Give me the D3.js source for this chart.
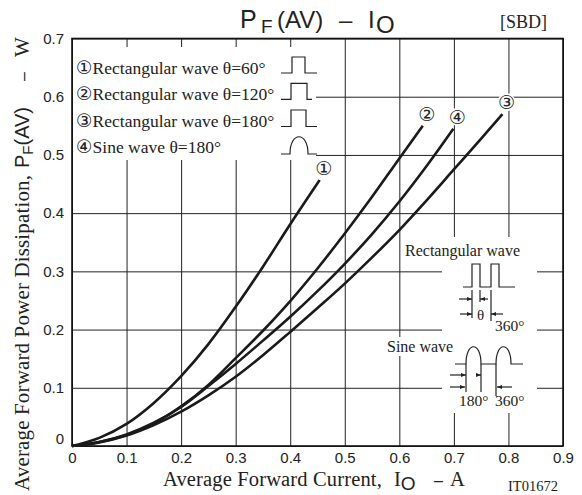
<!DOCTYPE html>
<html>
<head>
<meta charset="utf-8">
<script src="https://cdn.jsdelivr.net/npm/d3@7"></script>
<style>
  html, body { margin: 0; padding: 0; background: #fff; }
  svg { display: block; }
</style>
</head>
<body>
<svg id="chart" width="582" height="495"></svg>
<script>
// axis ticks
const xTicks = [0, 0.1, 0.2, 0.3, 0.4, 0.5, 0.6, 0.7, 0.8, 0.9];
const xTickLabels = ["0", "0.1", "0.2", "0.3", "0.4", "0.5", "0.6", "0.7", "0.8", "0.9"];
const yTicks = [0, 0.1, 0.2, 0.3, 0.4, 0.5, 0.6, 0.7];
const yTickLabels = ["0", "0.1", "0.2", "0.3", "0.4", "0.5", "0.6", "0.7"];

// series: average forward current (A) vs forward power dissipation (W)
const seriesMarks = ["\u2460", "\u2461", "\u2462", "\u2463"];
const seriesNames = [
  "Rectangular wave \u03b8=60\u00b0",
  "Rectangular wave \u03b8=120\u00b0",
  "Rectangular wave \u03b8=180\u00b0",
  "Sine wave \u03b8=180\u00b0"
];
const ioRect60 = [0, 0.05, 0.1, 0.15, 0.2, 0.25, 0.3, 0.35, 0.4, 0.454];
const pfRect60 = [0, 0.014, 0.038, 0.074, 0.12, 0.175, 0.239, 0.308, 0.381, 0.457];
const ioRect120 = [0, 0.05, 0.1, 0.15, 0.2, 0.25, 0.3, 0.35, 0.4, 0.45, 0.5, 0.55, 0.6, 0.643];
const pfRect120 = [0, 0.007, 0.019, 0.039, 0.068, 0.105, 0.151, 0.198, 0.249, 0.305, 0.365, 0.428, 0.494, 0.55];
const ioRect180 = [0, 0.05, 0.1, 0.15, 0.2, 0.25, 0.3, 0.35, 0.4, 0.45, 0.5, 0.55, 0.6, 0.65, 0.7, 0.75, 0.789];
const pfRect180 = [0, 0.006, 0.018, 0.036, 0.059, 0.087, 0.119, 0.156, 0.196, 0.237, 0.279, 0.324, 0.371, 0.422, 0.475, 0.528, 0.57];
const ioSine = [0, 0.05, 0.1, 0.15, 0.2, 0.25, 0.3, 0.35, 0.4, 0.45, 0.5, 0.55, 0.6, 0.65, 0.699];
const pfSine = [0, 0.007, 0.02, 0.04, 0.067, 0.103, 0.141, 0.181, 0.222, 0.266, 0.313, 0.364, 0.42, 0.481, 0.545];

const SANS = "'Liberation Sans', Arial, Helvetica, sans-serif";
const SERIF = "'Liberation Serif', 'Times New Roman', serif";
const CIRC = "'DejaVu Sans', sans-serif";

const svg = d3.select("#chart");
const plotL = 72, plotR = 563, plotT = 38.5, plotB = 446;

const x = d3.scaleLinear().domain([0, 0.9]).range([plotL, plotR]);
const y = d3.scaleLinear().domain([0, 0.7]).range([plotB, plotT]);

svg.append("rect").attr("width", 582).attr("height", 495).attr("fill", "#fff");

// grid + tick labels
const gx = svg.append("g")
  .attr("transform", "translate(0," + plotB + ")")
  .call(d3.axisBottom(x).tickValues(xTicks)
    .tickFormat((d, i) => xTickLabels[i])
    .tickSize(-(plotB - plotT)).tickPadding(6));
const gy = svg.append("g")
  .attr("transform", "translate(" + plotL + ",0)")
  .call(d3.axisLeft(y).tickValues(yTicks)
    .tickFormat((d, i) => yTickLabels[i])
    .tickSize(-(plotR - plotL)).tickPadding(8));

[gx, gy].forEach(g => {
  g.select(".domain").remove();
  g.selectAll(".tick line").attr("stroke", "#222").attr("stroke-width", 1);
  g.selectAll(".tick text")
    .attr("fill", "#222")
    .attr("font-family", SANS)
    .attr("font-size", 15);
});
// the zero label sits a bit above the axis line
gy.selectAll(".tick text").filter(d => d === 0).attr("dy", "-0.2em");

// white patches behind the legend and the wave insets
const masks = [
  [73, 47, 316, 160],
  [442, 237, 537, 413],
  [403, 242, 521, 261],
  [385, 337, 456, 356]
];
svg.append("g").selectAll("rect").data(masks).join("rect")
  .attr("x", d => d[0]).attr("y", d => d[1])
  .attr("width", d => d[2] - d[0]).attr("height", d => d[3] - d[1])
  .attr("fill", "#fff");

// frame
svg.append("rect")
  .attr("x", plotL).attr("y", plotT)
  .attr("width", plotR - plotL).attr("height", plotB - plotT)
  .attr("fill", "none").attr("stroke", "#111").attr("stroke-width", 1.6);

// curves
const series = [
  { mark: seriesMarks[0], io: ioRect60, pf: pfRect60 },
  { mark: seriesMarks[1], io: ioRect120, pf: pfRect120 },
  { mark: seriesMarks[2], io: ioRect180, pf: pfRect180 },
  { mark: seriesMarks[3], io: ioSine, pf: pfSine }
];
const line = d3.line()
  .x(d => x(d[0])).y(d => y(d[1]))
  .curve(d3.curveMonotoneX);

svg.append("g").selectAll("path").data(series).join("path")
  .attr("d", s => line(s.io.map((v, i) => [v, s.pf[i]])))
  .attr("fill", "none")
  .attr("stroke", "#1a1a1a")
  .attr("stroke-width", 2.6)
  .attr("stroke-linecap", "butt");

// circled numbers at curve ends
const endLabels = svg.append("g").selectAll("g").data(series).join("g")
  .attr("transform", s => {
    const n = s.io.length - 1;
    return "translate(" + (x(s.io[n]) + 4) + "," + (y(s.pf[n]) - 12) + ")";
  });
endLabels.append("circle").attr("r", 9).attr("fill", "#fff");
endLabels.append("text")
  .attr("text-anchor", "middle").attr("dy", "0.36em")
  .attr("font-family", CIRC).attr("font-size", 19).attr("fill", "#222")
  .text(s => s.mark);

// legend
const legendY = [74, 100, 126.5, 153];
const legend = svg.append("g");
legend.selectAll("text").data(seriesNames).join("text")
  .attr("x", 76).attr("y", (d, i) => legendY[i])
  .attr("fill", "#222")
  .each(function(d, i) {
    const t = d3.select(this);
    t.append("tspan").attr("font-family", CIRC).attr("font-size", 18.5).text(seriesMarks[i]);
    t.append("tspan").attr("font-family", SERIF).attr("font-size", 17.5).text(d);
  });

const icons = [
  "M281,73 H292 V57 H305 V73 H317",
  "M281,99.3 H291 V83.3 H307 V99.3 H312",
  "M281,126.5 H291 V110 H306 V126.5 H317",
  "M281,154 H290 C290,131 308,131 308,154 H317"
];
legend.selectAll("path").data(icons).join("path")
  .attr("d", d => d)
  .attr("fill", "none").attr("stroke", "#222").attr("stroke-width", 1.2);

// inset sketches
const inset = svg.append("g").attr("stroke", "#222").attr("stroke-width", 1.2).attr("fill", "none");
function arrow(x1, yy, x2) {
  const dir = x2 > x1 ? 1 : -1;
  inset.append("line").attr("x1", x1).attr("y1", yy).attr("x2", x2).attr("y2", yy);
  inset.append("path")
    .attr("d", "M" + x2 + "," + yy + " l" + (-5 * dir) + ",-2 v4 z")
    .attr("fill", "#222").attr("stroke", "none");
}
function vline(xx, y1, y2) {
  inset.append("line").attr("x1", xx).attr("y1", y1).attr("x2", xx).attr("y2", y2);
}

inset.append("path").attr("d", "M463,287 H472 V264 H480 V287 H491 V264 H499 V287 H515");
vline(472, 290, 318);
vline(480, 290, 302);
vline(491, 290, 321);
arrow(459, 299, 472);
arrow(488, 299, 480);
arrow(460, 314, 472);
arrow(503, 314, 491);

inset.append("path").attr("d", "M455,364 H466 C466,341 481,341 481,364 H496 C496,341 511,341 511,364 H523");
vline(466, 364, 392);
vline(481, 364, 392);
vline(496, 364, 396);
arrow(450, 375, 466);
arrow(476, 375, 481);
arrow(450, 387, 465);
arrow(512, 387, 497);

const notes = [
  { t: "Rectangular wave", x: 405, y: 256, s: 16 },
  { t: "\u03b8", x: 477, y: 320, s: 15 },
  { t: "360\u00b0", x: 495, y: 331, s: 15.5 },
  { t: "Sine wave", x: 387, y: 352, s: 16 },
  { t: "180\u00b0", x: 459, y: 406, s: 15.5 },
  { t: "360\u00b0", x: 495, y: 406, s: 15.5 },
  { t: "[SBD]", x: 500, y: 28, s: 18 },
  { t: "IT01672", x: 508, y: 491, s: 14.5 }
];
svg.append("g").selectAll("text").data(notes).join("text")
  .attr("x", d => d.x).attr("y", d => d.y)
  .attr("font-family", SERIF).attr("font-size", d => d.s).attr("fill", "#222")
  .text(d => d.t);

// title
const title = svg.append("text").attr("y", 28).attr("fill", "#222").attr("font-family", SANS).attr("font-size", 24);
title.append("tspan").attr("x", 240).attr("font-size", 25).text("P");
title.append("tspan").attr("x", 261).attr("font-size", 19).attr("dy", 5).text("F");
title.append("tspan").attr("x", 277).attr("dy", -5).text("(AV)");
title.append("tspan").attr("x", 339).text("\u2013");
title.append("tspan").attr("x", 368).text("I");
title.append("tspan").attr("x", 376).attr("dy", 5).text("O");

// x axis title
const xt = svg.append("text").attr("y", 486).attr("fill", "#222").attr("font-family", SERIF).attr("font-size", 20.5);
xt.append("tspan").attr("x", 163).attr("letter-spacing", 0.15).text("Average Forward Current,");
xt.append("tspan").attr("x", 394).text("I");
xt.append("tspan").attr("font-family", SANS).attr("font-size", 19).attr("dy", 4).text("O");
xt.append("tspan").attr("x", 434).attr("dy", -4).attr("font-family", SANS).attr("font-size", 16).text("\u2013");
xt.append("tspan").attr("x", 450).text("A");

// y axis title (rotated)
const yt = svg.append("text").attr("transform", "rotate(-90)").attr("y", 29)
  .attr("fill", "#222").attr("font-family", SERIF).attr("font-size", 21);
yt.append("tspan").attr("x", -491).attr("letter-spacing", 0.15).text("Average Forward Power Dissipation,");
yt.append("tspan").attr("x", -168).attr("font-family", SANS).attr("font-size", 20).text("P");
yt.append("tspan").attr("font-family", SANS).attr("font-size", 15).attr("dy", 4).text("F");
yt.append("tspan").attr("font-family", SANS).attr("font-size", 20).attr("dy", -4).text("(AV)");
yt.append("tspan").attr("x", -81).attr("font-family", SANS).attr("font-size", 16).text("\u2013");
yt.append("tspan").attr("x", -57).text("W");
</script>
</body>
</html>
